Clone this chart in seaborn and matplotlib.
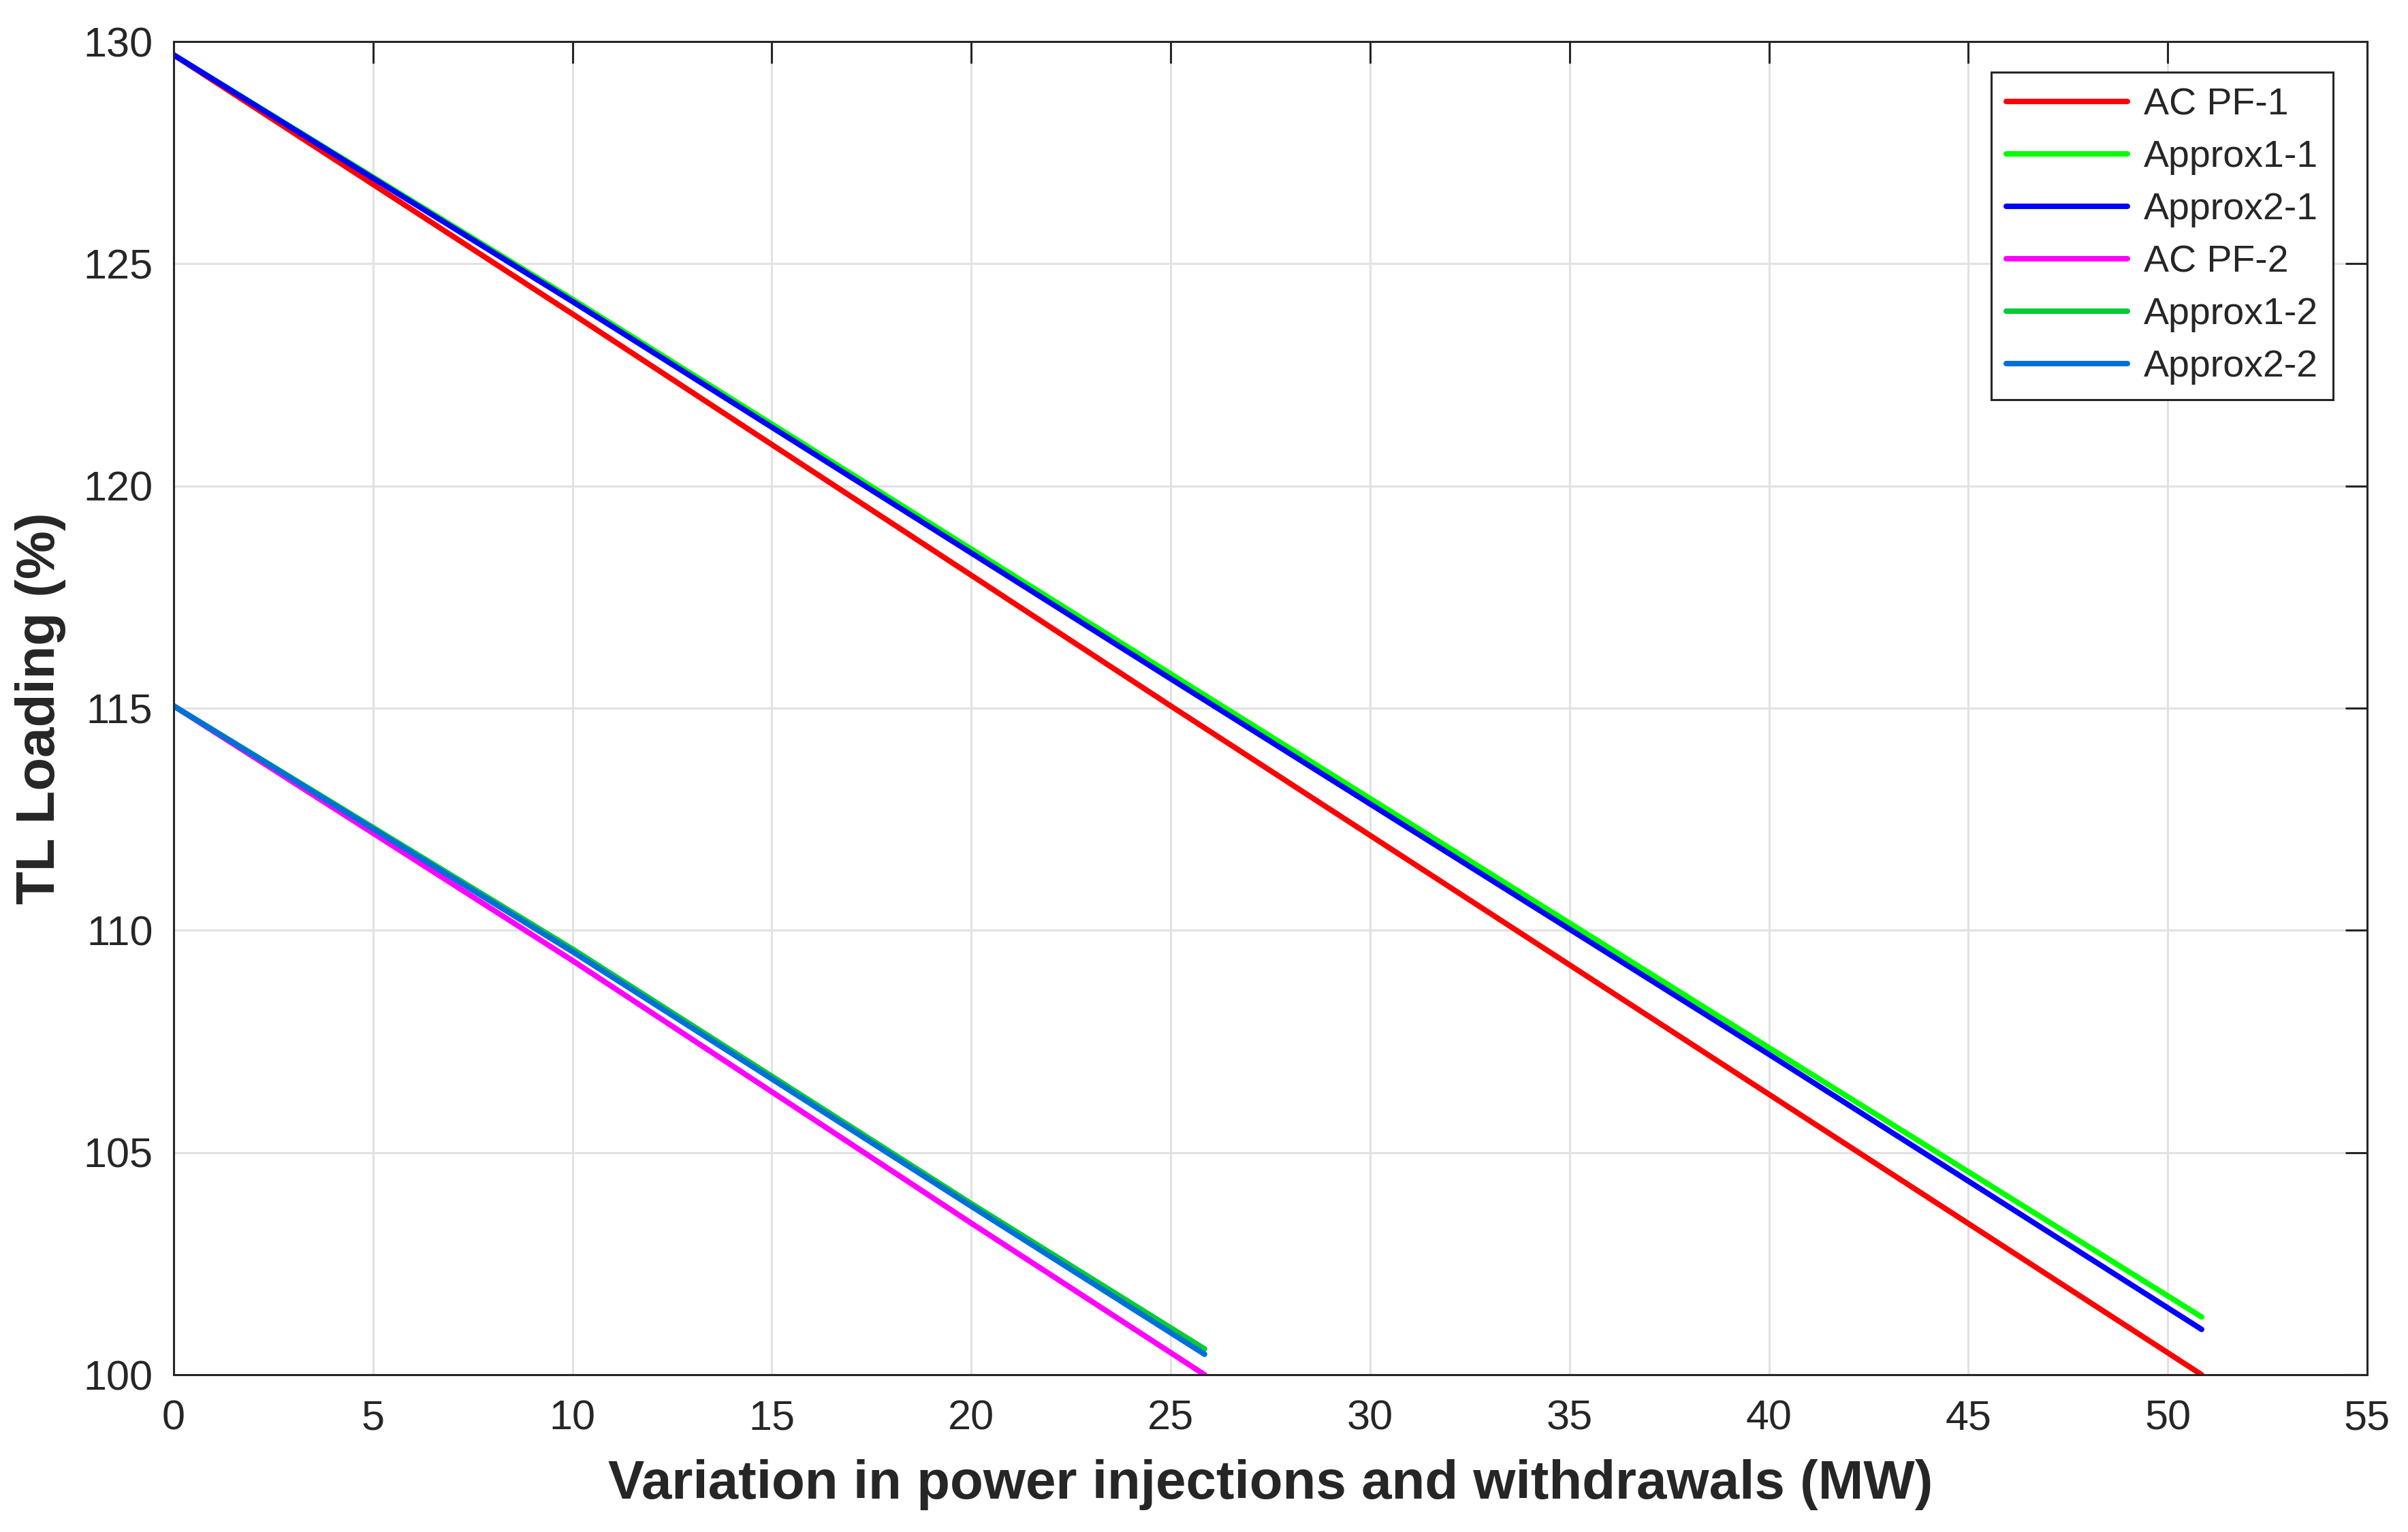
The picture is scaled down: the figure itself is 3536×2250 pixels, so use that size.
import matplotlib
matplotlib.use("Agg")
import matplotlib.pyplot as plt
import seaborn as sns
import pandas as pd

# ---- data ----
x_case1 = [0, 10, 25, 40, 50.85]
acpf_1 = [129.7, 123.87, 115.05, 106.31, 100.0]
approx1_1 = [129.7, 124.2, 115.77, 107.36, 101.30]
approx2_1 = [129.7, 124.15, 115.66, 107.21, 101.02]

x_case2 = [0, 10, 20, 25.85]
acpf_2 = [115.05, 109.32, 103.41, 100.0]
approx1_2 = [115.05, 109.58, 103.85, 100.58]
approx2_2 = [115.05, 109.52, 103.79, 100.46]

series_names = ["AC PF-1", "Approx1-1", "Approx2-1", "AC PF-2", "Approx1-2", "Approx2-2"]
series_colors = ["#FF0000", "#00FF00", "#0000FF", "#FF00FF", "#00CC33", "#0070D8"]
x_ticks = list(range(0, 56, 5))
y_ticks = list(range(100, 131, 5))
x_label = "Variation in power injections and withdrawals (MW)"
y_label = "TL Loading (%)"

rows = []
for name, xs, ys in [
    ("AC PF-1", x_case1, acpf_1),
    ("Approx1-1", x_case1, approx1_1),
    ("Approx2-1", x_case1, approx2_1),
    ("AC PF-2", x_case2, acpf_2),
    ("Approx1-2", x_case2, approx1_2),
    ("Approx2-2", x_case2, approx2_2),
]:
    for xv, yv in zip(xs, ys):
        rows.append({"series": name, "x": xv, "y": yv})
df = pd.DataFrame(rows)

sns.set_style("white")
plt.rcParams["font.family"] = ["Liberation Sans", "DejaVu Sans"]

fig = plt.figure(figsize=(35.37, 22.5), dpi=100)
ax = fig.add_axes([255 / 3537, 1 - 2019 / 2250, (3476 - 255) / 3537, (2019 - 61) / 2250])

palette = dict(zip(series_names, series_colors))
sns.lineplot(data=df, x="x", y="y", hue="series", hue_order=series_names,
             palette=palette, estimator=None, sort=False, linewidth=5.8,
             ax=ax, legend=True)

ax.set_xlim(0, 55)
ax.set_ylim(100, 130)
ax.set_xticks(x_ticks)
ax.set_yticks(y_ticks)
ax.grid(True, color="#E2E2E2", linewidth=2.2)
ax.set_axisbelow(True)
for sp in ax.spines.values():
    sp.set_color("#262626")
    sp.set_linewidth(2.2)
    sp.set_visible(True)
ax.tick_params(direction="in", length=23, width=2.2, colors="#262626",
               labelsize=44, top=True, right=True)
ax.tick_params(axis="x", pad=26)
ax.tick_params(axis="y", pad=22)

ax.set_xlabel(x_label, fontsize=57.5, fontweight="bold", color="#262626", labelpad=22)
ax.set_ylabel(y_label, fontsize=57.5, fontweight="bold", color="#262626", labelpad=18)

leg = ax.legend(loc="upper right", bbox_to_anchor=(0.9845, 0.977), borderaxespad=0,
                fontsize=40, frameon=True, fancybox=False, framealpha=1,
                edgecolor="#262626", handlelength=3.2, handletextpad=0.42,
                labelspacing=0.45, borderpad=0.4, title=None)
leg.get_frame().set_linewidth(2.2)
for line in leg.get_lines():
    line.set_linewidth(5.8)

fig.savefig("out.png", dpi=100, facecolor="white")
